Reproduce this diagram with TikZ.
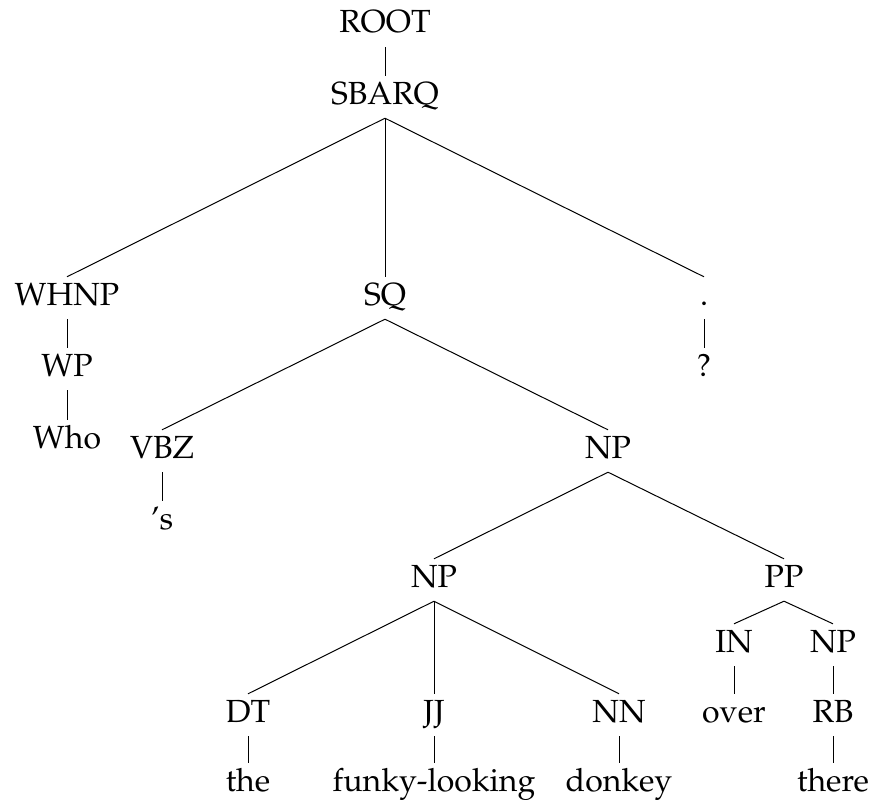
\documentclass[tikz,border=0pt]{standalone}
\usepackage[T1]{fontenc}
\usepackage{mathpazo}
\begin{document}
\begin{tikzpicture}[x=1pt,y=-1pt,
	cat/.style={anchor=base, inner xsep=2pt, inner ysep=6pt, text height=22pt, text depth=8pt, font=\fontsize{32}{38}\selectfont},
	edge/.style={line width=1pt}]
		\useasboundingbox (0,0) rectangle (873,800);
		%draw categories
		\node[cat] (root) at (385,33) {ROOT};
		\node[cat] (sbarq) at (385,104) {SBARQ};
		\node[cat] (whnp) at (67,305) {WHNP};
		\node[cat] (sq) at (385,305) {SQ};
		\node[cat] (punct) at (704,305) {.};
		\node[cat] (wp) at (67,376) {WP};
		\node[cat] (who) at (67,448) {Who};
		\node[cat] (qmark) at (704,376) {?};
		\node[cat] (vbz) at (162,458) {VBZ};
		\node[cat] (s) at (162,529) {'s};
		\node[cat] (np) at (608,458) {NP};
		\node[cat] (npb) at (434,587) {NP};
		\node[cat] (pp) at (784,587) {PP};
		\node[cat] (dt) at (248,722) {DT};
		\node[cat] (jj) at (434,722) {JJ};
		\node[cat] (nn) at (619,722) {NN};
		\node[cat] (the) at (248,791) {the};
		\node[cat] (funky) at (434,791) {funky-looking};
		\node[cat] (donkey) at (619,791) {donkey};
		\node[cat] (in) at (734,652) {IN};
		\node[cat] (npc) at (833,652) {NP};
		\node[cat] (over) at (734,722) {over};
		\node[cat] (rb) at (833,722) {RB};
		\node[cat] (there) at (833,791) {there};
		%draw branches
		\foreach \a/\b in {root/sbarq, sbarq/whnp, sbarq/sq, sbarq/punct,
			whnp/wp, wp/who, punct/qmark, sq/vbz, sq/np, vbz/s,
			np/npb, np/pp, npb/dt, npb/jj, npb/nn, dt/the, jj/funky, nn/donkey,
			pp/in, pp/npc, in/over, npc/rb, rb/there}
			\draw[edge] (\a.south) -- (\b.north);
	\end{tikzpicture}
\end{document}
